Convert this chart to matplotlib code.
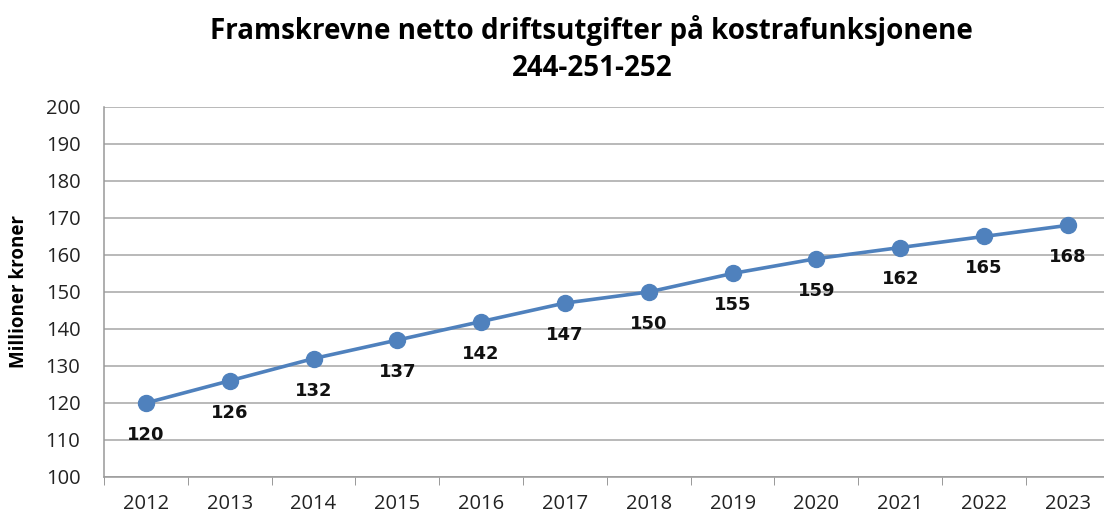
import numpy as np
import matplotlib.pyplot as plt

# Data
years = ['2012', '2013', '2014', '2015', '2016', '2017',
         '2018', '2019', '2020', '2021', '2022', '2023']
values = [120, 126, 132, 137, 142, 147, 150, 155, 159, 162, 165, 168]

plt.rcParams['font.family'] = ['Open Sans', 'DejaVu Sans']

fig = plt.figure(figsize=(11.04, 5.14), dpi=100)
ax = fig.add_axes([0.0942, 0.072, 0.911, 0.72])

x = np.arange(len(years))
ax.plot(x, values, color='#4F81BD', linewidth=2.6, marker='o',
        markersize=11.5, zorder=3)

# labels sit under each point, like Excel's "below" position
for xi, v in zip(x, values):
    ax.annotate(str(v), (xi, v), xytext=(0, -23), textcoords='offset points',
                ha='center', va='center', fontsize=13, fontweight='bold',
                family='DejaVu Sans', color='#111111')

ax.set_xlim(-0.5, len(years) - 0.5)
ax.set_ylim(100, 200)
ax.set_yticks(np.arange(100, 201, 10))
ax.set_xticks(x)
ax.set_xticklabels(years)
ax.set_xticks(np.arange(-0.5, len(years), 1), minor=True)
ax.tick_params(axis='x', which='major', length=0, pad=12, labelsize=14.5,
               labelcolor='#222222')
ax.tick_params(axis='x', which='minor', length=6, color='#888888')
ax.tick_params(axis='y', length=0, pad=17, labelsize=14.5, labelcolor='#222222')

ax.grid(axis='y', color='#A6A6A6', linewidth=1.1)
ax.set_axisbelow(True)
for side in ['top', 'right']:
    ax.spines[side].set_visible(False)
for side in ['left', 'bottom']:
    ax.spines[side].set_color('#999999')
    ax.spines[side].set_linewidth(1.1)

ax.set_ylabel('Millioner kroner', fontsize=13.5, fontweight='bold', labelpad=12)
fig.text(0.536, 0.941, 'Framskrevne netto driftsutgifter på kostrafunksjonene',
         ha='center', va='center', fontsize=20, fontweight='bold')
fig.text(0.536, 0.867, '244-251-252',
         ha='center', va='center', fontsize=20, fontweight='bold')

plt.savefig('out.png', dpi=100)
